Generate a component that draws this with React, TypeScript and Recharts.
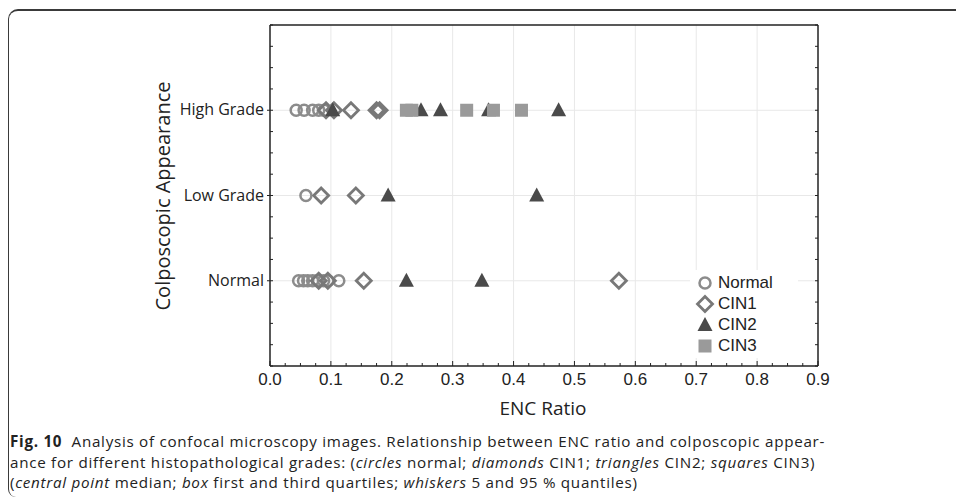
import { ScatterChart, Scatter, XAxis, YAxis, ReferenceLine } from "recharts";

// y positions: Normal = 1, Low Grade = 2, High Grade = 3
const categories = ["Normal", "Low Grade", "High Grade"];
const xLabels = [0, 0.1, 0.2, 0.3, 0.4, 0.5, 0.6, 0.7, 0.8, 0.9];
const legendItems = ["Normal", "CIN1", "CIN2", "CIN3"];

// ENC ratio per histology group, one array per colposcopic row
const normalAtNormal = [0.047, 0.055, 0.062, 0.07, 0.078, 0.088, 0.095, 0.113];
const normalAtLow = [0.059];
const normalAtHigh = [0.043, 0.056, 0.07, 0.08, 0.089];

const cin1AtNormal = [0.08, 0.095, 0.154, 0.573];
const cin1AtLow = [0.084, 0.141];
const cin1AtHigh = [0.092, 0.105, 0.133, 0.175, 0.18];

const cin2AtNormal = [0.224, 0.348];
const cin2AtLow = [0.194, 0.438];
const cin2AtHigh = [0.103, 0.248, 0.28, 0.359, 0.474];

const cin3AtNormal: number[] = [];
const cin3AtLow: number[] = [];
const cin3AtHigh = [0.224, 0.233, 0.323, 0.367, 0.413];

const toPoints = (rows: number[][]) =>
  rows.flatMap((vals, i) => vals.map((x) => ({ x, y: i + 1 })));

const normalPts = toPoints([normalAtNormal, normalAtLow, normalAtHigh]);
const cin1Pts = toPoints([cin1AtNormal, cin1AtLow, cin1AtHigh]);
const cin2Pts = toPoints([cin2AtNormal, cin2AtLow, cin2AtHigh]);
const cin3Pts = toPoints([cin3AtNormal, cin3AtLow, cin3AtHigh]);

const xMinor = Array.from({ length: 37 }, (_, i) => +(i * 0.025).toFixed(3));
const yMinor = Array.from({ length: 17 }, (_, i) => i * 0.25);

const isMajorX = (v: number) => Math.abs(v * 10 - Math.round(v * 10)) < 1e-6;

const CircleShape = ({ cx, cy }: any) => (
  <circle cx={cx} cy={cy} r={5.5} fill="none" stroke="#8c8c8c" strokeWidth={2.5} />
);
const DiamondShape = ({ cx, cy }: any) => {
  const s = 7.5;
  return (
    <polygon
      points={`${cx},${cy - s} ${cx + s},${cy} ${cx},${cy + s} ${cx - s},${cy}`}
      fill="none"
      stroke="#787878"
      strokeWidth={2.8}
    />
  );
};
const TriangleShape = ({ cx, cy }: any) => (
  <polygon points={`${cx},${cy - 8} ${cx + 7.5},${cy + 6} ${cx - 7.5},${cy + 6}`} fill="#4a4a4a" />
);
const SquareShape = ({ cx, cy }: any) => (
  <rect x={cx - 6.5} y={cy - 6.5} width={13} height={13} fill="#9a9a9a" />
);

const shapes: Record<string, any> = {
  Normal: CircleShape,
  CIN1: DiamondShape,
  CIN2: TriangleShape,
  CIN3: SquareShape,
};

const BottomTick = ({ x, y, payload }: any) => {
  const major = isMajorX(payload.value);
  return (
    <g>
      <line x1={x} x2={x} y1={y} y2={y - (major ? 5 : 3)} stroke="#222" />
      {major && (
        <text x={x} y={y + 19} textAnchor="middle" fontSize={17} fill="#222" fontFamily="Liberation Sans, Arial">
          {payload.value.toFixed(1)}
        </text>
      )}
    </g>
  );
};

const TopTick = ({ x, y, payload }: any) => (
  <line x1={x} x2={x} y1={y} y2={y + (isMajorX(payload.value) ? 5 : 3)} stroke="#222" />
);

const LeftTick = ({ x, y, payload }: any) => {
  const v = payload.value;
  const label = Number.isInteger(v) && v >= 1 && v <= 3 ? categories[v - 1] : null;
  return (
    <g>
      <line x1={label ? x - 3 : x} x2={x + 3} y1={y} y2={y} stroke="#222" />
      {label && (
        <text x={x - 6} y={y + 5} textAnchor="end" fontSize={16} fill="#222" fontFamily="Open Sans">
          {label}
        </text>
      )}
    </g>
  );
};

const RightTick = ({ x, y }: any) => <line x1={x} x2={x - 3} y1={y} y2={y} stroke="#222" />;

const captionStyle: React.CSSProperties = {
  position: "absolute",
  left: 10,
  fontFamily: "Open Sans",
  fontSize: 15.2,
  letterSpacing: 0.72,
  lineHeight: "20px",
  color: "#222",
  whiteSpace: "nowrap",
};

export default function App() {
  return (
    <div style={{ position: "absolute", left: 0, top: 0, width: 956, height: 502, background: "#fff", overflow: "hidden" }}>
      <div
        style={{
          position: "absolute",
          left: 8,
          top: 9,
          width: 1000,
          height: 488,
          borderTop: "2px solid #3a3a3a",
          borderLeft: "1.5px solid #3a3a3a",
          borderTopLeftRadius: 10,
          borderBottomLeftRadius: 8,
          boxSizing: "border-box",
        }}
      />
      <div style={{ position: "absolute", left: 0, top: 0 }}>
        <ScatterChart width={956} height={502} margin={{ top: 24, right: 137, left: 170, bottom: 106 }}>
          {xLabels.slice(1, -1).map((v) => (
            <ReferenceLine key={"vx" + v} x={v} stroke="#e8e8e8" />
          ))}
          {[1, 2, 3].map((v) => (
            <ReferenceLine key={"hy" + v} y={v} stroke="#e8e8e8" />
          ))}
          <XAxis
            type="number"
            dataKey="x"
            domain={[0, 0.9]}
            ticks={xMinor}
            interval={0}
            tickSize={0}
            tickMargin={0}
            tickLine={false}
            tick={<BottomTick />}
            height={30}
            axisLine={{ stroke: "#222", strokeWidth: 1.5 }}
          />
          <XAxis
            xAxisId="top"
            orientation="top"
            type="number"
            domain={[0, 0.9]}
            allowDataOverflow
            ticks={xMinor}
            interval={0}
            tickSize={0}
            tickMargin={0}
            tickLine={false}
            tick={<TopTick />}
            height={1}
            axisLine={{ stroke: "#222", strokeWidth: 1.5 }}
          />
          <YAxis
            type="number"
            dataKey="y"
            domain={[0, 4]}
            ticks={yMinor}
            interval={0}
            tickSize={0}
            tickMargin={0}
            tickLine={false}
            tick={<LeftTick />}
            width={100}
            axisLine={{ stroke: "#222", strokeWidth: 1.5 }}
          />
          <YAxis
            yAxisId="right"
            orientation="right"
            type="number"
            domain={[0, 4]}
            allowDataOverflow
            ticks={yMinor}
            interval={0}
            tickSize={0}
            tickMargin={0}
            tickLine={false}
            tick={<RightTick />}
            width={1}
            axisLine={{ stroke: "#222", strokeWidth: 1.5 }}
          />
          <Scatter name="Normal" data={normalPts} shape={<CircleShape />} isAnimationActive={false} />
          <Scatter name="CIN1" data={cin1Pts} shape={<DiamondShape />} isAnimationActive={false} />
          <Scatter name="CIN2" data={cin2Pts} shape={<TriangleShape />} isAnimationActive={false} />
          <Scatter name="CIN3" data={cin3Pts} shape={<SquareShape />} isAnimationActive={false} />
        </ScatterChart>
      </div>
      <div style={{ position: "absolute", left: 690, top: 270, background: "#fff", padding: "2px 4px", width: 100 }}>
        {legendItems.map((name) => {
          const Shape = shapes[name];
          return (
            <div key={name} style={{ display: "flex", alignItems: "center", height: 21 }}>
              <svg width={22} height={20}>
                <Shape cx={11} cy={10} />
              </svg>
              <span style={{ fontFamily: "Liberation Sans, Arial", fontSize: 17, color: "#222", marginLeft: 2 }}>
                {name}
              </span>
            </div>
          );
        })}
      </div>
      <div
        style={{
          position: "absolute",
          left: 162,
          top: 196,
          transform: "translate(-50%, -50%) rotate(-90deg)",
          fontFamily: "Open Sans",
          fontSize: 20,
          color: "#222",
          whiteSpace: "nowrap",
        }}
      >
        Colposcopic Appearance
      </div>
      <div
        style={{
          position: "absolute",
          left: 543,
          top: 408,
          transform: "translate(-50%, -50%)",
          fontFamily: "Open Sans",
          fontSize: 19,
          color: "#222",
          whiteSpace: "nowrap",
        }}
      >
        ENC Ratio
      </div>
      <div style={{ ...captionStyle, top: 431 }}>
        <b>Fig. 10</b>&nbsp;&nbsp;Analysis of confocal microscopy images. Relationship between ENC ratio and colposcopic appear-
      </div>
      <div style={{ ...captionStyle, top: 452 }}>
        ance for different histopathological grades: (<i>circles</i> normal; <i>diamonds</i> CIN1; <i>triangles</i> CIN2;{" "}
        <i>squares</i> CIN3)
      </div>
      <div style={{ ...captionStyle, top: 472 }}>
        (<i>central point</i> median; <i>box</i> first and third quartiles; <i>whiskers</i> 5 and 95 % quantiles)
      </div>
    </div>
  );
}
